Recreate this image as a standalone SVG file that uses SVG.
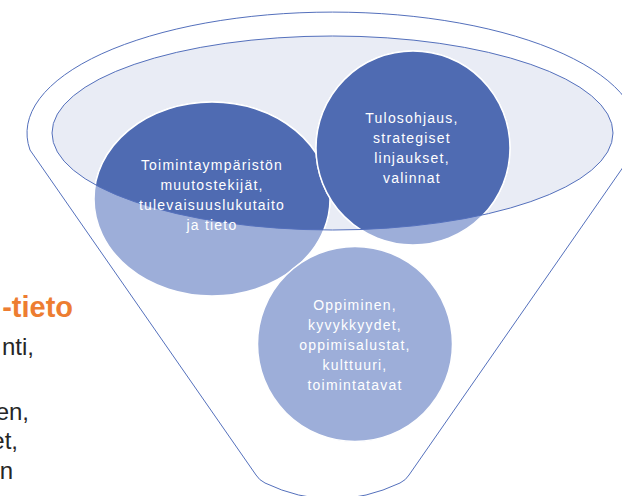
<svg xmlns="http://www.w3.org/2000/svg" width="622" height="496" viewBox="0 0 622 496">
  <style>
    .outline { fill: none; stroke: #5470BC; stroke-width: 1; }
    .rim { fill: #E9ECF5; }
    .light { fill: #9DAED9; stroke: #FFFFFF; stroke-width: 1.5; }
    .dark { fill: #4F6BB2; stroke: #FFFFFF; stroke-width: 1.5; }
    .label { font-family: "Liberation Sans", Arial, sans-serif; font-size: 14px; fill: #FFFFFF; text-anchor: middle; letter-spacing: 1.2px; }
    .side { font-family: "Liberation Sans", Arial, sans-serif; font-size: 24px; fill: #262626; text-anchor: end; }
    .side-head { font-family: "Liberation Sans", Arial, sans-serif; font-size: 29px; font-weight: bold; fill: #ED7D31; text-anchor: end; }
  </style>
  <defs>
    <clipPath id="rim-clip">
      <ellipse cx="332.5" cy="133" rx="280.5" ry="97"/>
    </clipPath>
  </defs>

  <rect width="622" height="496" fill="#FFFFFF"/>

  <!-- funnel body: wide top arc, straight sides, rounded spout -->
  <g id="funnel">
    <path class="outline" d="M30 150 A305.5 121 0 1 1 635 150 L409 475 Q406 480 400 483 Q332 515 265 483 Q259 480 256 475 Z"/>
  </g>

  <!-- funnel mouth -->
  <g id="rim">
    <ellipse class="rim" cx="332.5" cy="133" rx="280.5" ry="97"/>
  </g>

  <g id="node-environment">
    <ellipse class="light" cx="212" cy="199" rx="118" ry="97"/>
    <ellipse class="dark" cx="212" cy="199" rx="118" ry="97" clip-path="url(#rim-clip)"/>
  </g>

  <g id="node-steering">
    <circle class="light" cx="413" cy="148" r="97"/>
    <circle class="dark" cx="413" cy="148" r="97" clip-path="url(#rim-clip)"/>
  </g>

  <g id="node-learning">
    <circle class="light" cx="355" cy="344" r="97.5"/>
  </g>

  <!-- mouth edge drawn over the circles -->
  <ellipse class="outline" cx="332.5" cy="133" rx="280.5" ry="97"/>

  <g id="connectors"/>

  <g id="labels">
    <text class="label" x="212" y="170">Toimintaympäristön</text>
    <text class="label" x="212" y="190">muutostekijät,</text>
    <text class="label" x="212" y="210">tulevaisuuslukutaito</text>
    <text class="label" x="212" y="230">ja tieto</text>

    <text class="label" x="412" y="123">Tulosohjaus,</text>
    <text class="label" x="412" y="143">strategiset</text>
    <text class="label" x="412" y="163">linjaukset,</text>
    <text class="label" x="412" y="183">valinnat</text>

    <text class="label" x="355" y="310">Oppiminen,</text>
    <text class="label" x="355" y="330">kyvykkyydet,</text>
    <text class="label" x="355" y="350">oppimisalustat,</text>
    <text class="label" x="355" y="370">kulttuuri,</text>
    <text class="label" x="355" y="390">toimintatavat</text>
  </g>

  <g id="side-text">
    <text class="side-head" x="73" y="317">-tieto</text>
    <text class="side" x="34" y="355">nti,</text>
    <text class="side" x="29" y="420">en,</text>
    <text class="side" x="18" y="449">et,</text>
    <text class="side" x="13" y="479">n</text>
  </g>
</svg>
